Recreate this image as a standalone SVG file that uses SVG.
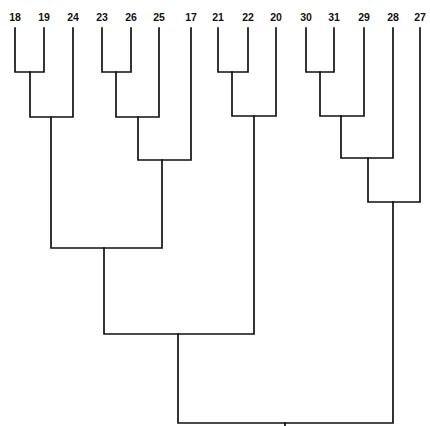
<svg xmlns="http://www.w3.org/2000/svg" width="430" height="426" viewBox="0 0 430 426">
<style>
.lbl{font-family:"Liberation Sans",Arial,sans-serif;font-size:10.5px;font-weight:bold;fill:#111;text-anchor:middle}
.e{fill:none;stroke:#111;stroke-width:1.7;stroke-linejoin:miter;stroke-linecap:square}
</style>
<rect width="430" height="426" fill="#fff"/>
<g id="labels">
<g id="n18"><text class="lbl" x="15" y="21">18</text></g>
<g id="n19"><text class="lbl" x="44" y="21">19</text></g>
<g id="n24"><text class="lbl" x="73" y="21">24</text></g>
<g id="n23"><text class="lbl" x="102" y="21">23</text></g>
<g id="n26"><text class="lbl" x="131" y="21">26</text></g>
<g id="n25"><text class="lbl" x="159" y="21">25</text></g>
<g id="n17"><text class="lbl" x="191" y="21">17</text></g>
<g id="n21"><text class="lbl" x="218" y="21">21</text></g>
<g id="n22"><text class="lbl" x="248" y="21">22</text></g>
<g id="n20"><text class="lbl" x="276" y="21">20</text></g>
<g id="n30"><text class="lbl" x="306" y="21">30</text></g>
<g id="n31"><text class="lbl" x="334" y="21">31</text></g>
<g id="n29"><text class="lbl" x="364" y="21">29</text></g>
<g id="n28"><text class="lbl" x="393" y="21">28</text></g>
<g id="n27"><text class="lbl" x="420" y="21">27</text></g>
</g>
<g id="connectors">
<path class="e" d="M15,28V72H44V28"/>
<path class="e" d="M30,72V117H73V28"/>
<path class="e" d="M102,28V72H131V28"/>
<path class="e" d="M116,72V117H159V28"/>
<path class="e" d="M138,117V160H191V28"/>
<path class="e" d="M51,117V248H162V160"/>
<path class="e" d="M218,28V72H248V28"/>
<path class="e" d="M232,72V116H276V28"/>
<path class="e" d="M104,248V334H254V116"/>
<path class="e" d="M306,28V72H334V28"/>
<path class="e" d="M320,72V116H364V28"/>
<path class="e" d="M341,116V158H393V28"/>
<path class="e" d="M368,158V202H420V28"/>
<path class="e" d="M178,334V423H393V202"/>
<path class="e" d="M285,423V426"/>
</g>
</svg>
